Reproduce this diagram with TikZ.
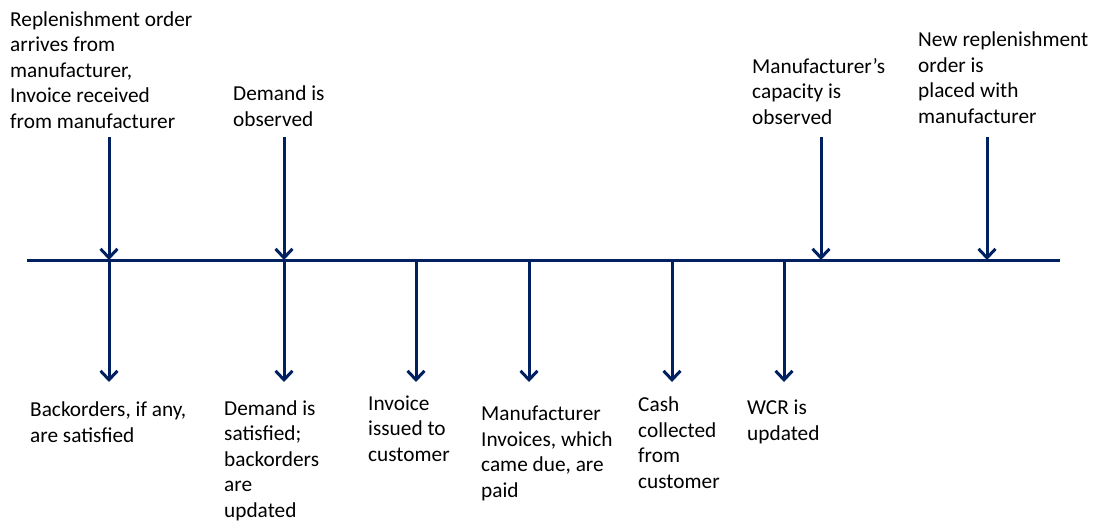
\documentclass[tikz,border=0pt]{standalone}
\usepackage{fontspec}
\setmainfont{Carlito}
\usepackage{xcolor}
\usepackage{tikz}
\usetikzlibrary{arrows.meta, positioning}

\definecolor{bleunuit}{RGB}{0,32,96}

\begin{document}
\begin{tikzpicture}[x=1pt, y=-1pt,
    ligne/.style={draw=bleunuit, line width=3pt},
    fleche/.style={ligne, -{Straight Barb[length=9pt, width=17pt]}},
    evt/.style={anchor=base west, align=left, inner sep=0pt,
        font=\fontsize{21.3}{25.5}\selectfont}]

    \useasboundingbox (0,0) rectangle (1095,523);

    % Axe du temps
    \coordinate (debut) at (27,260);
    \coordinate (fin) at (1060,260);
    \draw[ligne] (debut) -- (fin);

    % Points sur l'axe
    \coordinate (a1) at (109,260);
    \coordinate (a2) at (284,260);
    \coordinate (a3) at (416,260);
    \coordinate (a4) at (529,260);
    \coordinate (a5) at (672,260);
    \coordinate (a6) at (784,260);
    \coordinate (a7) at (821,260);
    \coordinate (a8) at (987,260);

    % Origines et extremites des fleches
    \coordinate (h1) at (109,137);
    \coordinate (h2) at (284,137);
    \coordinate (h7) at (821,137);
    \coordinate (h8) at (987,137);
    \coordinate (b1) at (109,382);
    \coordinate (b2) at (284,382);
    \coordinate (b3) at (416,382);
    \coordinate (b4) at (529,382);
    \coordinate (b5) at (672,382);
    \coordinate (b6) at (784,382);

    % Evenements au-dessus de l'axe (ligne de base de la derniere ligne)
    \node[evt] (arrivee) at (10,128) {Replenishment order\\arrives from\\manufacturer,\\Invoice received\\from manufacturer};
    \node[evt] (demande) at (233,126) {Demand is\\observed};
    \node[evt] (capacite) at (752,124) {Manufacturer’s\\capacity is\\observed};
    \node[evt] (commande) at (918,123) {New replenishment\\order is\\placed with\\manufacturer};

    % Evenements au-dessous de l'axe
    \node[evt] (retards) at (30,442) {Backorders, if any,\\are satisfied};
    \node[evt] (satisfaite) at (224,517) {Demand is\\satisfied;\\backorders\\are\\updated};
    \node[evt] (facture) at (368,461) {Invoice\\issued to\\customer};
    \node[evt] (paiement) at (481,497) {Manufacturer\\Invoices, which\\came due, are\\paid};
    \node[evt] (encaisse) at (638,488) {Cash\\collected\\from\\customer};
    \node[evt] (bfr) at (747,440) {WCR is\\updated};

    % Fleches
    \path[every edge/.append style={fleche}]
    (h1) edge (a1)
    (h2) edge (a2)
    (h7) edge (a7)
    (h8) edge (a8)
    (a1) edge (b1)
    (a2) edge (b2)
    (a3) edge (b3)
    (a4) edge (b4)
    (a5) edge (b5)
    (a6) edge (b6);

\end{tikzpicture}
\end{document}
